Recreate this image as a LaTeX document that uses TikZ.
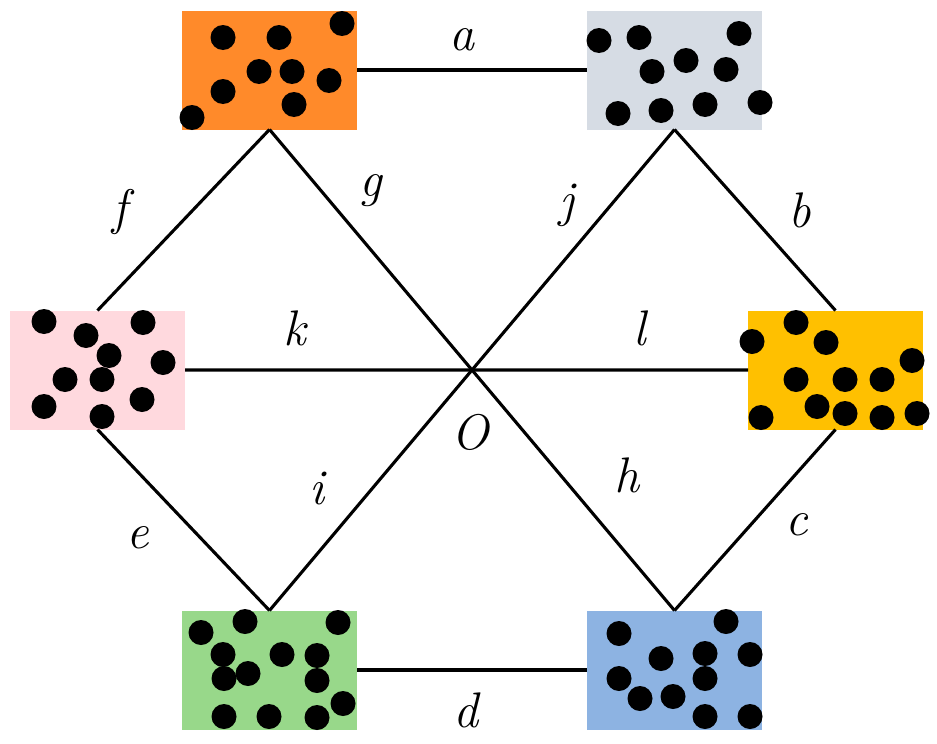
\documentclass[tikz,border=0pt]{standalone}
\usetikzlibrary{positioning}
\definecolor{cOrange}{HTML}{FF8A2A}
\definecolor{cGrey}{HTML}{D6DCE4}
\definecolor{cPink}{HTML}{FFD9DE}
\definecolor{cYellow}{HTML}{FFC000}
\definecolor{cGreen}{HTML}{98D88A}
\definecolor{cBlue}{HTML}{8DB3E2}
\begin{document}
\begin{tikzpicture}[x=1pt,y=-1pt,
		box/.style={ % rechteck mit kugeln
				minimum width=175pt, minimum height=119pt,
				inner sep=0pt, outer sep=0pt
			},
		link/.style={line width=3.1pt},
		lbl/.style={font=\fontsize{50}{52}\selectfont\itshape, inner sep=0pt}
	]
	\useasboundingbox (0,0) rectangle (937,744);
	% boxes
	\node[box, fill=cOrange] (tl) at (269.5,70) {};
	\node[box, fill=cGrey, right =230pt of tl] (tr) {};
	\node[box, fill=cPink] (lf) at (97.5,370) {};
	\node[box, fill=cYellow] (rt) at (835.5,370) {};
	\node[box, fill=cGreen, below =481pt of tl] (bl) {};
	\node[box, fill=cBlue, below =481pt of tr] (br) {};
	% dots, offsets from the upper left corner
	\foreach \x/\y in {160/13,41/27,97/27,77/61,110/61,147/70,41/81,112/94,10/107}
	\fill ([shift={(\x,\y)}]tl.north west) circle (12.5pt);
	\foreach \x/\y in {12/30,52/27,152/23,65/61,99/50,139/59,31/103,74/100,118/94,173/92}
	\fill ([shift={(\x,\y)}]tr.north west) circle (12.5pt);
	\foreach \x/\y in {34/11,133/12,76/25,99/45,153/52,55/69,92/69,34/96,132/89,92/106}
	\fill ([shift={(\x,\y)}]lf.north west) circle (12.5pt);
	\foreach \x/\y in {48/12,4/31,78/32,164/50,48/69,97/69,134/69,69/96,97/103,134/107,169/103,13/107}
	\fill ([shift={(\x,\y)}]rt.north west) circle (12.5pt);
	\foreach \x/\y in {63/11,19/22,156/12,41/44,100/44,135/45,42/68,66/63,135/70,161/93,42/106,87/106,135/107}
	\fill ([shift={(\x,\y)}]bl.north west) circle (12.5pt);
	\foreach \x/\y in {139/11,32/23,74/48,118/43,163/44,32/68,118/68,53/88,86/86,118/106,163/106}
	\fill ([shift={(\x,\y)}]br.north west) circle (12.5pt);
	% centre
	\coordinate (O) at (intersection of tl.south--br.north and tr.south--bl.north);
	% connections
	\draw[link] (tl) -- (tr);
	\draw[link] (bl) -- (br);
	\draw[link] (lf) -- (O) -- (rt);
	\draw[link] (tl.south) -- (br.north);
	\draw[link] (tr.south) -- (bl.north);
	\draw[link] (tl.south) -- (lf.north);
	\draw[link] (tr.south) -- (rt.north);
	\draw[link] (lf.south) -- (bl.north);
	\draw[link] (rt.south) -- (br.north);
	% labels
	\node[lbl] (la) at (462,40) {a};
	\node[lbl] (lb) at (800,210) {b};
	\node[lbl] (lc) at (797,525) {c};
	\node[lbl] (ld) at (466,710) {d};
	\node[lbl] (le) at (138,538) {e};
	\node[lbl] (lf2) at (120,212) {f};
	\node[lbl] (lg) at (371,191) {g};
	\node[lbl] (lh) at (627,475) {h};
	\node[lbl] (li) at (317,488) {i};
	\node[lbl] (lj) at (567,205) {j};
	\node[lbl] (lk) at (295,328) {k};
	\node[lbl] (ll) at (640,328) {l};
	\node[lbl] (lO) at (470,432) {O};
\end{tikzpicture}
\end{document}
